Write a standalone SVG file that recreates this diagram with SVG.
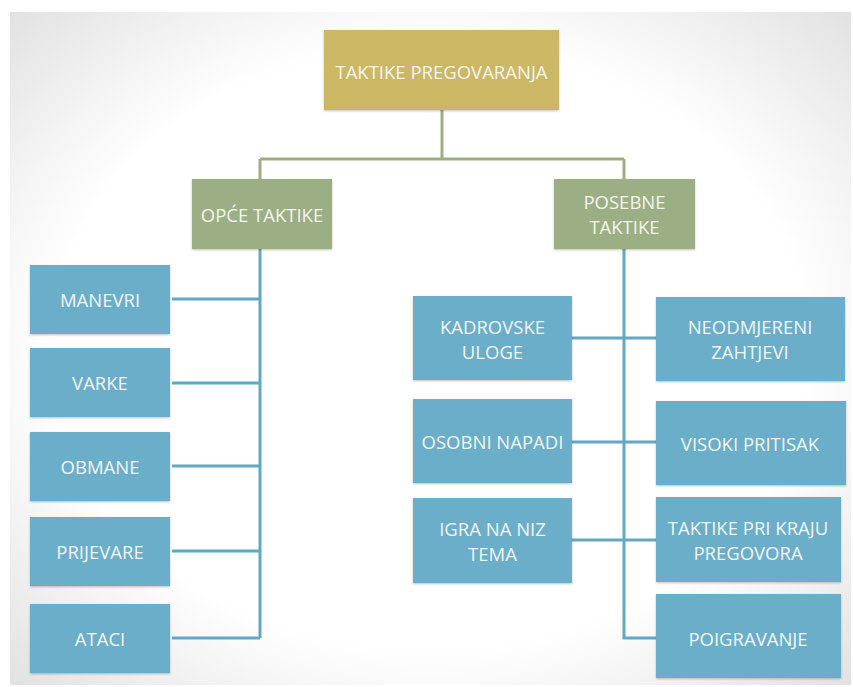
<svg xmlns="http://www.w3.org/2000/svg" width="853" height="687" viewBox="0 0 853 687">
<defs>
<radialGradient id="bg" cx="0.5" cy="0.5" r="0.72">
<stop offset="0.62" stop-color="#ffffff"/>
<stop offset="1" stop-color="#e0e0e0"/>
</radialGradient>
<filter id="sh" x="-5%" y="-5%" width="110%" height="115%">
<feDropShadow dx="0" dy="1" stdDeviation="0.8" flood-color="#000" flood-opacity="0.25"/>
</filter>
</defs>
<style>
.t{font-family:"Open Sans","Liberation Sans",sans-serif;font-size:18.5px;fill:#f2f5ee;text-anchor:middle;dominant-baseline:central}
.gold{fill:#ccb765}
.green{fill:#9caf84}
.blue{fill:#6aaec9}
.gl{stroke:#9caf84;stroke-width:3;fill:none}
.bl{stroke:#62a8c5;stroke-width:3;fill:none}
</style>
<rect x="0" y="0" width="853" height="687" fill="#ffffff"/>
<rect x="10" y="12" width="841" height="673" fill="url(#bg)"/>
<g id="connectors">
<path class="gl" d="M442 110V159M260 159H624M260 159V179M624 159V179"/>
<path class="bl" d="M260 249V638M172 299H260M172 383H260M172 466H260M172 551H260M172 638H260"/>
<path class="bl" d="M624 249V638H656M572 338H656M572 442H656M572 540H656"/>
</g>
<g id="root"><rect class="gold" x="324" y="30" width="235" height="80" filter="url(#sh)"/><text class="t" x="441.5" y="71">TAKTIKE PREGOVARANJA</text></g>
<g id="opce"><rect class="green" x="192" y="179" width="140" height="70" filter="url(#sh)"/><text class="t" x="262" y="214">OPĆE TAKTIKE</text></g>
<g id="posebne"><rect class="green" x="554" y="179" width="141" height="70" filter="url(#sh)"/><text class="t" x="624.5" y="201">POSEBNE</text><text class="t" x="624.5" y="226">TAKTIKE</text></g>
<g id="manevri"><rect class="blue" x="30" y="265" width="140" height="69" filter="url(#sh)"/><text class="t" x="100" y="299">MANEVRI</text></g>
<g id="varke"><rect class="blue" x="30" y="348" width="140" height="69" filter="url(#sh)"/><text class="t" x="100" y="382">VARKE</text></g>
<g id="obmane"><rect class="blue" x="30" y="432" width="140" height="69" filter="url(#sh)"/><text class="t" x="100" y="466">OBMANE</text></g>
<g id="prijevare"><rect class="blue" x="30" y="517" width="140" height="69" filter="url(#sh)"/><text class="t" x="100" y="551">PRIJEVARE</text></g>
<g id="ataci"><rect class="blue" x="30" y="604" width="140" height="69" filter="url(#sh)"/><text class="t" x="100" y="638">ATACI</text></g>
<g id="kadrovske"><rect class="blue" x="413" y="296" width="159" height="84" filter="url(#sh)"/><text class="t" x="492.5" y="326">KADROVSKE</text><text class="t" x="492.5" y="351">ULOGE</text></g>
<g id="osobni"><rect class="blue" x="413" y="399" width="159" height="84" filter="url(#sh)"/><text class="t" x="492.5" y="441">OSOBNI NAPADI</text></g>
<g id="igra"><rect class="blue" x="413" y="498" width="159" height="85" filter="url(#sh)"/><text class="t" x="492.5" y="528">IGRA NA NIZ</text><text class="t" x="492.5" y="553">TEMA</text></g>
<g id="neodmjereni"><rect class="blue" x="656" y="297" width="189" height="84" filter="url(#sh)"/><text class="t" x="750" y="326">NEODMJERENI</text><text class="t" x="750" y="351">ZAHTJEVI</text></g>
<g id="visoki"><rect class="blue" x="656" y="401" width="190" height="84" filter="url(#sh)"/><text class="t" x="750" y="443">VISOKI PRITISAK</text></g>
<g id="kraj"><rect class="blue" x="656" y="497" width="185" height="85" filter="url(#sh)"/><text class="t" x="748" y="527">TAKTIKE PRI KRAJU</text><text class="t" x="748" y="552">PREGOVORA</text></g>
<g id="poigravanje"><rect class="blue" x="656" y="594" width="185" height="84" filter="url(#sh)"/><text class="t" x="748" y="638">POIGRAVANJE</text></g>
</svg>
